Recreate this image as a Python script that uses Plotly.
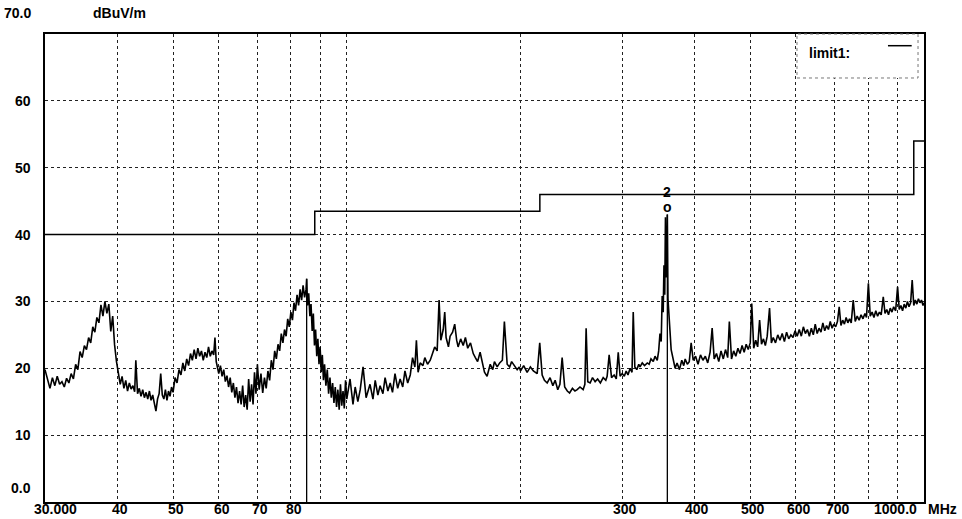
import math
import plotly.graph_objects as go

# scan trace (MHz, dBuV/m)
freq_a = [30.0, 30.3, 30.6, 30.9, 31.2, 31.5, 31.8, 32.1, 32.4, 32.7, 33.0, 33.3, 33.6, 33.9, 34.2, 34.5, 34.8,
          35.1, 35.4, 35.7, 36.0, 36.3, 36.6, 36.9, 37.2, 37.5, 37.8, 38.1, 38.4, 38.7, 39.0, 39.3, 39.6, 39.9]
level_a = [19.8, 18.2, 17.0, 18.6, 17.4, 18.8, 17.6, 18.0, 17.2, 18.5, 17.8, 19.2, 18.4, 20.6, 19.8, 22.5, 21.6,
           23.4, 22.8, 24.6, 23.8, 26.2, 25.4, 27.6, 26.8, 29.5, 27.8, 30.0, 28.2, 29.6, 25.5, 27.8, 23.5, 21.0]

freq_b = [40.2, 40.5, 40.8, 41.1, 41.4, 41.7, 42.0, 42.3, 42.6, 42.9, 43.1, 43.4, 43.7, 44.0, 44.3, 44.6, 44.9,
          45.2, 45.5, 45.8, 46.1, 46.4, 46.7, 47.0, 47.3, 47.6, 47.9, 48.2, 48.5, 48.8, 49.1, 49.4, 49.7]
level_b = [19.5, 17.6, 18.8, 17.0, 18.2, 16.6, 17.8, 16.9, 17.4, 16.5, 21.2, 16.2, 17.0, 15.8, 16.8, 15.6, 16.4,
           15.4, 16.6, 15.2, 16.0, 14.8, 13.6, 15.4, 16.2, 19.2, 16.0, 15.4, 16.8, 15.2, 16.6, 15.8, 17.2]

freq_c = [50.0, 50.4, 50.8, 51.2, 51.6, 52.0, 52.4, 52.8, 53.2, 53.6, 54.0, 54.4, 54.8, 55.2, 55.6, 56.0, 56.4,
          56.8, 57.2, 57.6, 58.0, 58.4, 58.8, 59.1, 59.4, 59.7]
level_c = [16.4, 18.6, 17.8, 19.8, 19.0, 20.8, 19.6, 21.4, 20.4, 22.2, 21.2, 22.8, 21.4, 23.0, 21.8, 22.6, 21.2,
           22.4, 21.6, 23.2, 21.8, 22.6, 22.0, 24.6, 21.0, 20.2]

freq_d = [60.0, 60.4, 60.8, 61.2, 61.6, 62.0, 62.4, 62.8, 63.2, 63.6, 64.0, 64.4, 64.8, 65.2, 65.6, 66.0, 66.4,
          66.8, 67.2, 67.6, 68.0, 68.4, 68.8, 69.2, 69.6]
level_d = [19.2, 20.4, 18.8, 19.8, 18.0, 18.9, 17.2, 18.6, 16.4, 17.8, 15.6, 17.2, 14.8, 16.6, 14.6, 17.4, 14.2,
           16.0, 13.8, 18.4, 15.0, 17.6, 14.6, 19.4, 16.2]

freq_e = [70.0, 70.5, 71.0, 71.5, 72.0, 72.5, 73.0, 73.5, 74.0, 74.5, 75.0, 75.5, 76.0, 76.5, 77.0, 77.5, 78.0,
          78.5, 79.0, 79.5]
level_e = [20.6, 16.8, 19.2, 16.3, 18.6, 17.0, 19.6, 18.2, 21.2, 19.8, 22.6, 21.4, 23.6, 22.6, 25.2, 23.8, 25.8,
           24.8, 27.4, 26.2]

freq_f = [80.0, 80.5, 81.0, 81.5, 82.0, 82.5, 83.0, 83.5, 84.0, 84.5, 85.0, 85.2, 85.5, 85.9, 86.3, 86.7, 87.1,
          87.5, 87.9, 88.3, 88.7, 89.1, 89.5, 89.9, 90.3, 90.7, 91.1, 91.5, 92.0, 92.5, 93.0, 93.5, 94.0, 94.5,
          95.0, 95.5, 96.0, 96.5, 97.0, 97.5, 98.0, 98.5, 99.0, 99.5]
level_f = [28.4, 27.2, 29.8, 28.6, 31.0, 29.4, 31.8, 30.2, 32.4, 30.6, 31.8, 33.4, 29.4, 31.2, 27.8, 29.6, 25.6,
           28.2, 23.4, 25.8, 21.8, 24.4, 20.6, 23.2, 19.4, 22.0, 18.2, 20.6, 17.4, 19.8, 16.2, 18.6, 15.6, 17.8,
           14.8, 17.2, 14.2, 16.8, 13.8, 17.6, 14.4, 16.6, 14.0, 18.2]

freq_g = [100.0, 101.3, 102.5, 103.4, 104.5, 105.5, 106.7, 108.0, 109.7, 111.0, 112.0, 113.2, 114.2, 115.5,
          116.5, 117.8, 118.9, 120.0, 121.2, 122.5, 123.7, 125.0, 126.1, 127.5, 128.8, 130.0, 131.2, 132.0,
          132.9, 134.0, 135.5, 136.5, 138.0, 139.5, 141.0, 142.0, 143.4, 144.5, 145.5, 146.9, 147.8, 148.6,
          150.0, 151.0, 152.5, 153.8, 155.0, 155.9, 157.5, 159.1, 160.5, 162.0, 163.8, 165.6, 167.0, 168.5,
          170.2, 172.0, 173.2, 175.0, 177.2, 179.0, 180.2, 182.2, 184.0, 186.0, 187.5, 189.6, 191.5, 193.0,
          195.1, 197.3, 199.0]
level_g = [15.4, 18.4, 14.6, 17.2, 15.0, 16.8, 20.2, 15.6, 17.6, 15.4, 18.2, 16.0, 17.4, 16.2, 18.6, 16.6, 17.8,
           16.4, 19.2, 17.0, 18.4, 17.2, 19.6, 17.8, 19.0, 21.6, 20.2, 24.2, 19.4, 20.8, 20.4, 21.6, 20.6, 21.2,
           22.4, 23.2, 22.6, 30.2, 24.2, 25.8, 28.4, 24.6, 23.2, 24.8, 25.4, 26.6, 24.2, 23.2, 24.4, 23.4, 24.6,
           23.0, 23.8, 22.2, 21.6, 21.0, 22.4, 20.4, 19.4, 18.8, 20.6, 19.8, 21.0, 20.2, 20.8, 21.2, 27.0, 20.6,
           20.2, 21.0, 20.4, 19.8, 20.2]

freq_h = [200.0, 202.5, 205.3, 208.0, 210.5, 213.7, 215.9, 218.0, 220.0, 222.4, 225.0, 227.5, 229.6, 232.0,
          234.0, 236.1, 238.5, 241.0, 243.2, 246.0, 248.5, 250.7, 253.5, 256.7, 258.5, 259.8, 261.5, 264.0,
          266.5, 269.3, 272.0, 275.0, 278.1, 281.0, 282.5, 284.8, 287.5, 290.5, 293.0, 295.3, 297.5, 300.0]
level_h = [19.6, 20.4, 19.4, 20.2, 19.6, 19.2, 23.8, 19.0, 18.2, 17.8, 18.6, 17.4, 18.2, 16.8, 17.6, 21.6, 17.2,
           16.6, 16.3, 17.0, 16.6, 16.8, 17.2, 16.8, 17.6, 26.0, 18.0, 17.8, 18.6, 18.0, 18.4, 17.8, 18.6, 18.2,
           18.8, 22.0, 18.6, 19.0, 18.4, 22.4, 18.8, 19.2]

freq_i = [302.5, 304.8, 307.0, 309.6, 312.0, 313.5, 315.5, 318.0, 320.5, 322.1, 325.0, 328.0, 331.6, 334.0,
          336.5, 339.6, 342.0, 345.0, 347.0, 348.8, 350.5, 351.9, 353.3, 354.4, 355.5, 356.5, 357.5, 358.3,
          359.2, 360.1, 361.8, 363.0, 364.7, 367.6, 370.5, 373.4, 377.0, 380.5, 383.5, 385.7, 389.0, 392.0,
          395.0, 398.2]
level_i = [18.8, 19.6, 19.0, 20.0, 19.4, 28.4, 20.2, 19.8, 20.6, 20.2, 20.8, 20.4, 20.8, 20.6, 21.4, 21.0, 21.8,
           21.2, 22.6, 25.2, 24.0, 30.8, 28.4, 35.4, 31.0, 42.6, 33.6, 36.2, 43.0, 30.4, 28.2, 25.6, 22.8, 21.2,
           20.0, 20.8, 19.8, 21.2, 20.4, 21.4, 20.6, 21.0, 23.8, 21.2]

freq_j = [402, 406, 410, 414, 418, 422, 426, 429.5, 433, 437, 441, 445, 449, 453, 457, 460, 464, 468, 472, 476,
          480, 484, 488, 492, 496, 500, 503, 507, 511, 515, 519, 523, 527, 531, 535, 540, 544, 548, 553, 558,
          563, 568, 573, 578, 583, 588, 593, 598, 603, 608, 613, 618, 623, 628, 633, 638, 643, 648, 653, 658,
          663, 668, 673, 678, 683, 688, 693, 698, 703, 708, 713, 718, 723, 728, 733, 738, 743, 748, 754, 760,
          766, 772, 778, 784, 790, 795, 801, 807, 813, 819, 825, 831, 837, 843, 850, 856, 862, 868, 874, 880,
          886, 893, 900, 906, 912, 918, 924, 930, 936, 942, 948, 954, 960, 966, 972, 978, 984, 990, 996, 1000]
level_j = [21.8, 20.6, 22.0, 21.2, 21.8, 20.8, 22.4, 26.0, 21.4, 22.2, 21.0, 22.6, 21.4, 22.8, 21.6, 27.0, 21.4,
           22.6, 21.8, 23.0, 22.2, 23.4, 22.4, 23.6, 22.8, 23.8, 29.7, 23.0, 24.2, 23.2, 27.2, 23.6, 24.4, 23.4,
           24.8, 29.0, 23.8, 24.6, 23.8, 25.0, 24.2, 25.2, 24.0, 25.4, 24.4, 25.0, 24.6, 25.6, 24.8, 25.8, 24.8,
           26.2, 25.2, 25.8, 24.8, 26.0, 25.0, 26.6, 25.2, 26.0, 25.4, 26.8, 25.6, 26.4, 25.8, 27.0, 26.0, 26.6,
           26.2, 27.0, 29.2, 26.4, 27.2, 26.6, 27.6, 26.8, 27.4, 26.8, 30.2, 27.0, 27.8, 27.2, 28.0, 27.4, 28.2,
           27.6, 32.7, 27.8, 28.4, 27.6, 28.6, 27.8, 28.4, 28.0, 30.7, 28.2, 28.8, 28.0, 29.0, 28.4, 29.2, 28.6,
           32.2, 28.8, 29.4, 28.6, 29.6, 29.0, 30.0, 29.2, 29.8, 33.2, 29.4, 30.2, 29.6, 30.4, 29.8, 30.2, 29.4,
           29.8]

scan_freq = freq_a + freq_b + freq_c + freq_d + freq_e + freq_f + freq_g + freq_h + freq_i + freq_j
scan_level = level_a + level_b + level_c + level_d + level_e + level_f + level_g + level_h + level_i + level_j

# limit1 (stepped)
limit_freq = [30, 88, 216, 960, 1000]
limit_level = [40.0, 43.5, 46.0, 54.0, 54.0]

# markers
marker_freq = [85.2, 359.2]
marker_level = [33.4, 43.0]
marker_label = ["", "2"]

# axes
grid_freq = [40, 50, 60, 70, 80, 90, 100, 200, 300, 400, 500, 600, 700, 800, 900]
x_label_freq = [30, 40, 50, 60, 70, 80, 300, 400, 500, 600, 700, 1000]
x_label_text = ["30.000", "40", "50", "60", "70", "80", "300", "400", "500", "600", "700", "1000.0"]
y_grid = [10, 20, 30, 40, 50, 60]
y_label_val = [0, 10, 20, 30, 40, 50, 60, 70]
y_label_text = ["0.0", "10", "20", "30", "40", "50", "60", "70.0"]

FONT = "Liberation Sans, Arial, sans-serif"
FS = 14

fig = go.Figure()

fig.add_trace(go.Scatter(x=scan_freq, y=scan_level, mode="lines",
                         line=dict(color="black", width=1.6), hoverinfo="skip"))
fig.add_trace(go.Scatter(x=limit_freq, y=limit_level, mode="lines", line_shape="hv",
                         line=dict(color="black", width=1.5), name="limit1"))

for f, lv, lab in zip(marker_freq, marker_level, marker_label):
    fig.add_trace(go.Scatter(x=[f, f], y=[0, lv], mode="lines",
                             line=dict(color="black", width=1.3), hoverinfo="skip"))
    if lab:
        # annotations on a log axis take log10 positions
        fig.add_annotation(x=math.log10(f), y=lv, xref="x", yref="y", text="<b>o</b>", showarrow=False,
                           yshift=8, font=dict(family=FONT, size=FS, color="black"))
        fig.add_annotation(x=math.log10(f), y=lv, xref="x", yref="y", text="<b>" + lab + "</b>",
                           showarrow=False, yshift=23, font=dict(family=FONT, size=FS, color="black"))

# x tick labels
n = len(x_label_freq)
for i, (f, t) in enumerate(zip(x_label_freq, x_label_text)):
    if i == 0:
        anchor, shift = "left", -12
    elif i == n - 1:
        anchor, shift = "right", -6
    else:
        anchor, shift = "center", 3
    fig.add_annotation(x=math.log10(f), y=0, xref="x", yref="paper", text="<b>" + t + "</b>",
                       showarrow=False, xanchor=anchor, yanchor="top", xshift=shift, yshift=2,
                       borderpad=0, font=dict(family=FONT, size=FS, color="black"))
fig.add_annotation(x=1, y=0, xref="paper", yref="paper", text="<b>MHz</b>", showarrow=False,
                   xanchor="left", yanchor="top", xshift=3, yshift=2, borderpad=0,
                   font=dict(family=FONT, size=FS, color="black"))

# y tick labels
for v, t in zip(y_label_val, y_label_text):
    ys = 0
    if v == 0:
        ys = 14
    elif v == 70:
        ys = 21
    fig.add_annotation(x=0, y=v, xref="paper", yref="y", text="<b>" + t + "</b>", showarrow=False,
                       xanchor="right", xshift=-12, yshift=ys,
                       font=dict(family=FONT, size=FS, color="black"))
fig.add_annotation(x=0, y=70, xref="paper", yref="y", text="<b>dBuV/m</b>", showarrow=False,
                   xanchor="left", xshift=46, yshift=21,
                   font=dict(family=FONT, size=FS, color="black"))

# legend box
fig.add_shape(type="rect", xref="paper", yref="paper", x0=0.8555, x1=0.9932, y0=0.906, y1=1.0,
              line=dict(color="#777", width=1, dash="dot"), fillcolor="white", layer="above")
fig.add_annotation(x=0.867, y=0.981, xref="paper", yref="paper", text="<b>limit1:</b>", showarrow=False,
                   xanchor="left", font=dict(family=FONT, size=FS, color="black"))
fig.add_shape(type="line", xref="paper", yref="paper", x0=0.959, x1=0.986, y0=0.975, y1=0.975,
              line=dict(color="black", width=1.5), layer="above")

fig.update_layout(
    width=962, height=519,
    margin=dict(l=45, r=38, t=34, b=17),
    paper_bgcolor="white", plot_bgcolor="white",
    showlegend=False,
    xaxis=dict(type="log", range=[math.log10(30), 3.0], tickvals=grid_freq, showticklabels=False, ticks="",
               showgrid=True, gridcolor="#222", gridwidth=1, griddash="3px,3px",
               showline=True, mirror=True, linecolor="black", linewidth=2, zeroline=False),
    yaxis=dict(range=[0, 70], tickvals=y_grid, showticklabels=False, ticks="",
               showgrid=True, gridcolor="#222", gridwidth=1, griddash="3px,3px",
               showline=True, mirror=True, linecolor="black", linewidth=2, zeroline=False),
)

fig.write_html("out.html", config={"displayModeBar": False},
               post_script="document.body.style.margin='0';")
